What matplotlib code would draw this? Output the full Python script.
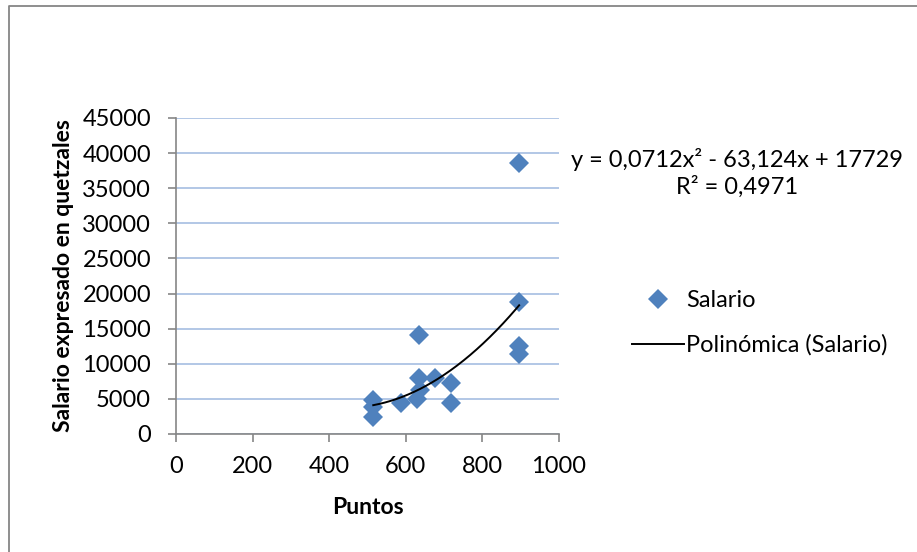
import numpy as np
import matplotlib
matplotlib.use("Agg")
import matplotlib.pyplot as plt
from matplotlib.lines import Line2D

# puntos vs salario (quetzales)
puntos = [515, 515, 515, 587, 628, 637, 635, 635, 676, 717, 717, 896, 896, 896, 896]
salario = [4900, 3900, 2400, 4450, 4950, 6250, 7950, 14100, 7950, 7300, 4450, 12500, 11400, 18800, 38600]

# polynomial trend coefficients (a*x^2 + b*x + c)
trend_coef = [0.0712, -63.124, 17729]
r2 = 0.4971

x_ticks = [0, 200, 400, 600, 800, 1000]
y_ticks = list(range(0, 45001, 5000))

plt.rcParams["font.family"] = ["Lato", "DejaVu Sans"]

W, H = 917, 552
fig = plt.figure(figsize=(W / 100, H / 100), dpi=100)
ax = fig.add_axes([176 / W, 1 - 434 / H, (559 - 176) / W, (434 - 118) / H])

marker_color = "#4F81BD"
grid_color = "#A5BDE2"
axis_color = "#868686"
fs = 17

ax.plot(puntos, salario, linestyle="none", marker="D", markersize=10.5,
        color=marker_color, markeredgewidth=0, zorder=3)

xs = np.linspace(min(puntos), max(puntos), 200)
ax.plot(xs, np.polyval(trend_coef, xs), color="black", lw=1.4, zorder=4)

ax.set_xlim(0, 1000)
ax.set_ylim(0, 45000)
ax.set_xticks(x_ticks)
ax.set_yticks(y_ticks)
ax.tick_params(labelsize=fs, colors=axis_color, labelcolor="black",
               length=6, width=1.2, direction="out")
ax.tick_params(axis="x", pad=10)
ax.tick_params(axis="y", pad=12)
ax.yaxis.grid(True, color=grid_color, lw=1.2)
ax.set_axisbelow(True)
for side in ("top", "right"):
    ax.spines[side].set_visible(False)
for side in ("left", "bottom"):
    ax.spines[side].set_color(axis_color)
    ax.spines[side].set_linewidth(1.2)

ax.set_xlabel("Puntos", fontsize=16.5, fontweight="bold", labelpad=14)
ax.set_ylabel("Salario expresado en quetzales", fontsize=16.5, fontweight="bold", labelpad=6)

a, b, c = trend_coef
eq = f"y = {a:g}x² - {-b:g}x + {c:g}".replace(".", ",")
fig.text(737 / W, 1 - 159 / H, eq, fontsize=fs, ha="center", va="center")
fig.text(737 / W, 1 - 187 / H, f"R² = {r2:g}".replace(".", ","), fontsize=fs,
         ha="center", va="center")

handles = [
    Line2D([], [], linestyle="none", marker="D", markersize=10.5, color=marker_color, markeredgewidth=0),
    Line2D([], [], color="black", lw=1.4),
]
fig.legend(handles, ["Salario", "Polinómica (Salario)"], loc="center left",
           bbox_to_anchor=(620 / W, 1 - 323 / H), frameon=False, fontsize=fs,
           handlelength=2.2, handletextpad=0.1, labelspacing=1.0, borderpad=0)

# chart border (top and left edges visible)
fig.add_artist(Line2D([9 / W, 9 / W, 1], [0, 1 - 6 / H, 1 - 6 / H],
                      transform=fig.transFigure, color=axis_color, lw=1.3))

fig.savefig("out.png", dpi=100)
